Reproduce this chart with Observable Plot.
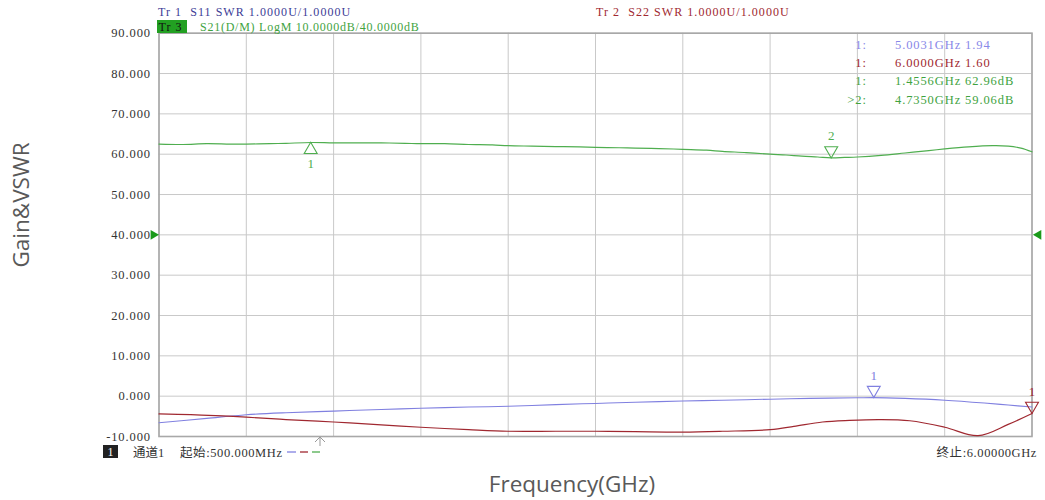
<!DOCTYPE html>
<html><head><meta charset="utf-8">
<script src="https://cdn.jsdelivr.net/npm/d3@7"></script>
<script src="https://cdn.jsdelivr.net/npm/@observablehq/plot@0.6"></script>
<style>
body{margin:0;background:#fff}
#chart svg{display:block}
</style>
</head><body><div id="chart"></div>
<script>
// ---- data (display units of the analyzer screen) ----
const freqS21 = [0.50,0.65,0.80,0.95,1.05,1.20,1.30,1.46,1.60,1.75,1.90,2.05,2.15,2.30,2.45,2.60,2.70,2.85,3.00,3.15,3.25,3.40,3.50,3.65,3.80,3.95,4.05,4.20,4.35,4.45,4.55,4.65,4.735,4.82,4.90,5.05,5.20,5.35,5.45,5.60,5.75,5.85,5.93,6.00];
const valS21  = [62.5,62.4,62.6,62.5,62.5,62.6,62.7,62.9,62.8,62.8,62.8,62.7,62.6,62.6,62.4,62.3,62.1,62.0,61.9,61.8,61.7,61.6,61.5,61.4,61.2,61.0,60.7,60.4,60.0,59.8,59.5,59.3,59.1,59.2,59.3,59.7,60.3,60.9,61.3,61.8,62.1,62.0,61.5,60.6];

const freqS11 = [0.50,0.80,1.05,1.30,1.60,1.90,2.15,2.45,2.70,3.00,3.25,3.50,3.80,4.05,4.35,4.60,4.90,5.00,5.20,5.45,5.70,5.85,6.00];
const valS11  = [-6.6,-5.5,-4.6,-4.1,-3.7,-3.3,-3.0,-2.7,-2.5,-2.1,-1.8,-1.5,-1.2,-1.0,-0.75,-0.55,-0.4,-0.35,-0.55,-1.0,-1.7,-2.2,-2.7];

const freqS22 = [0.50,0.70,0.90,1.05,1.30,1.60,1.90,2.15,2.45,2.70,3.00,3.25,3.50,3.80,4.05,4.35,4.50,4.68,4.85,5.04,5.23,5.45,5.66,5.85,6.00];
const valS22  = [-4.4,-4.6,-4.9,-5.2,-5.8,-6.4,-7.1,-7.7,-8.3,-8.7,-8.7,-8.7,-8.8,-8.9,-8.7,-8.3,-7.5,-6.4,-6.0,-5.8,-6.1,-7.7,-9.8,-7.0,-4.3];

// markers
const mkTrace = ["S11","S22","S21","S21"];
const mkNum   = ["1","1","1","2"];
const mkPrefix= ["1:","1:","1:",">2:"];
const mkFreq  = [5.0031, 6.0000, 1.4556, 4.7350];
const mkRead  = ["1.94","1.60","62.96dB","59.06dB"];
const mkY     = [-0.35, -4.3, 62.96, 59.06];   // position on screen trace
const mkUp    = [false, false, true, false];

const xGrid = [0.5,1.05,1.6,2.15,2.7,3.25,3.8,4.35,4.9,5.45,6.0];
const yTicks = [-10,0,10,20,30,40,50,60,70,80,90];
const refLevel = [40];

const colors = {S11:"#8080e0", S22:"#a02830", S21:"#4fae4f"};
const textColors = {S11:"#8888e8", S22:"#a02830", S21:"#3fa33f"};

const s21 = freqS21.map((f,i)=>({f, v:valS21[i]}));
const s11 = freqS11.map((f,i)=>({f, v:valS11[i]}));
const s22 = freqS22.map((f,i)=>({f, v:valS22[i]}));
const markers = mkTrace.map((t,i)=>({trace:t, num:mkNum[i], prefix:mkPrefix[i], f:mkFreq[i], read:mkRead[i], v:mkY[i], up:mkUp[i]}));
const mDown = markers.filter(d=>!d.up), mUp = markers.filter(d=>d.up);

const serif = "'Liberation Serif','Noto Sans CJK SC',serif";

const plot = Plot.plot({
  width: 1045, height: 500,
  marginLeft: 158.5, marginRight: 13.5, marginTop: 32.7, marginBottom: 64,
  style: {fontFamily: serif, fontSize: "12.5px", color: "#333", background: "#fff", overflow: "visible"},
  x: {domain: [0.5, 6], axis: null},
  y: {domain: [-10, 90], axis: null},
  marks: [
    Plot.gridX(xGrid, {stroke: "#c9c9c9", strokeOpacity: 1, strokeWidth: 1}),
    Plot.gridY(yTicks, {stroke: "#c9c9c9", strokeOpacity: 1, strokeWidth: 1}),
    Plot.axisY(yTicks, {tickSize: 0, tickPadding: 8, tickFormat: d => d.toFixed(3), label: null, fill: "#333"}),
    Plot.frame({stroke: "#a8a8a8", strokeWidth: 1.6}),
    Plot.line(s21, {x: "f", y: "v", stroke: colors.S21, strokeWidth: 1.2, curve: "catmull-rom"}),
    Plot.line(s11, {x: "f", y: "v", stroke: colors.S11, strokeWidth: 1.1, curve: "catmull-rom"}),
    Plot.line(s22, {x: "f", y: "v", stroke: colors.S22, strokeWidth: 1.2, curve: "catmull-rom"}),
    Plot.dot(mDown, {x: "f", y: "v", symbol: "triangle", r: 4.8, rotate: 180, dy: -7.5, fill: "white", fillOpacity: 0, stroke: d => colors[d.trace], strokeWidth: 1.1}),
    Plot.dot(mUp, {x: "f", y: "v", symbol: "triangle", r: 4.8, rotate: 0, dy: 7.5, fill: "white", fillOpacity: 0, stroke: d => colors[d.trace], strokeWidth: 1.1}),
    Plot.text(mDown, {x: "f", y: "v", text: "num", dy: -22, fill: d => colors[d.trace], fontSize: 13}),
    Plot.text(mUp, {x: "f", y: "v", text: "num", dy: 22, fill: d => colors[d.trace], fontSize: 13}),
    Plot.dot(refLevel, {x: () => 0.5, y: d => d, symbol: "triangle", r: 3.6, rotate: 90, dx: -5.6, fill: "#1a9a1a", stroke: "none"}),
    Plot.dot(refLevel, {x: () => 6, y: d => d, symbol: "triangle", r: 3.6, rotate: -90, dx: 6.5, fill: "#1a9a1a", stroke: "none"})
  ]
});
document.getElementById("chart").appendChild(plot);

const svg = d3.select(plot);
svg.selectAll("[aria-label='y-axis tick label'] text").style("letter-spacing", "0.9px");

function txt(x, y, s, opts = {}) {
  const t = svg.append("text").attr("x", x).attr("y", y).text(s)
    .style("white-space", "pre").attr("xml:space", "preserve")
    .attr("font-family", opts.font || serif)
    .attr("font-size", opts.size || 12)
    .attr("fill", opts.fill || "#333")
    .attr("text-anchor", opts.anchor || "start");
  if (opts.ls) t.style("letter-spacing", opts.ls);
  return t;
}

// header
txt(158, 16, "Tr 1  S11 SWR 1.0000U/1.0000U", {fill: "#3c3c96", ls: "1.05px"});
svg.append("rect").attr("x", 157).attr("y", 20).attr("width", 30).attr("height", 13).attr("fill", "#22a022");
txt(158.5, 30.5, "Tr 3", {fill: "#111", ls: "1px"});
txt(200, 30.5, "S21(D/M) LogM 10.0000dB/40.0000dB", {fill: "#3fa33f", ls: "0.75px"});
txt(596, 16, "Tr 2  S22 SWR 1.0000U/1.0000U", {fill: "#a02830", ls: "1.05px"});

// marker readout table
const rowY = [49, 67, 85, 103.5];
markers.forEach((d, i) => {
  txt(867, rowY[i], d.prefix, {fill: textColors[d.trace], anchor: "end", size: 12.5, ls: "1px"});
  txt(895, rowY[i], `${d.f.toFixed(4)}GHz ${d.read}`, {fill: textColors[d.trace], size: 12.5, ls: "0.9px"});
});

// bottom status line
svg.append("rect").attr("x", 103).attr("y", 445).attr("width", 15).attr("height", 13).attr("fill", "#222");
txt(110.5, 456, "1", {fill: "#fff", anchor: "middle"});
txt(133, 457, "通道1", {size: 12.5});
txt(180, 457, "起始:500.000MHz", {size: 12.5, ls: "0.6px"});
[["S11",287,296],["S22",300,308],["S21",312,320]].forEach(([k,a,b]) => {
  svg.append("line").attr("x1", a).attr("x2", b).attr("y1", 452).attr("y2", 452).attr("stroke", colors[k]).attr("stroke-width", 1.3);
});
txt(1037, 457, "终止:6.00000GHz", {size: 12.5, anchor: "end", ls: "0.6px"});
// small marker-position indicator below the axis
svg.append("path").attr("d", "M320,437 L320,446 M315,442 L320,437 L325,442").attr("stroke", "#999").attr("fill", "none").attr("stroke-width", 1);

// axis titles
txt(572, 492, "Frequency(GHz)", {font: "'Open Sans',sans-serif", size: 22.5, fill: "#595959", anchor: "middle"});
txt(0, 0, "Gain&VSWR", {font: "'Open Sans',sans-serif", size: 22.5, fill: "#595959", anchor: "middle"})
  .attr("transform", "translate(29,205) rotate(-90)");
</script>
</body></html>
